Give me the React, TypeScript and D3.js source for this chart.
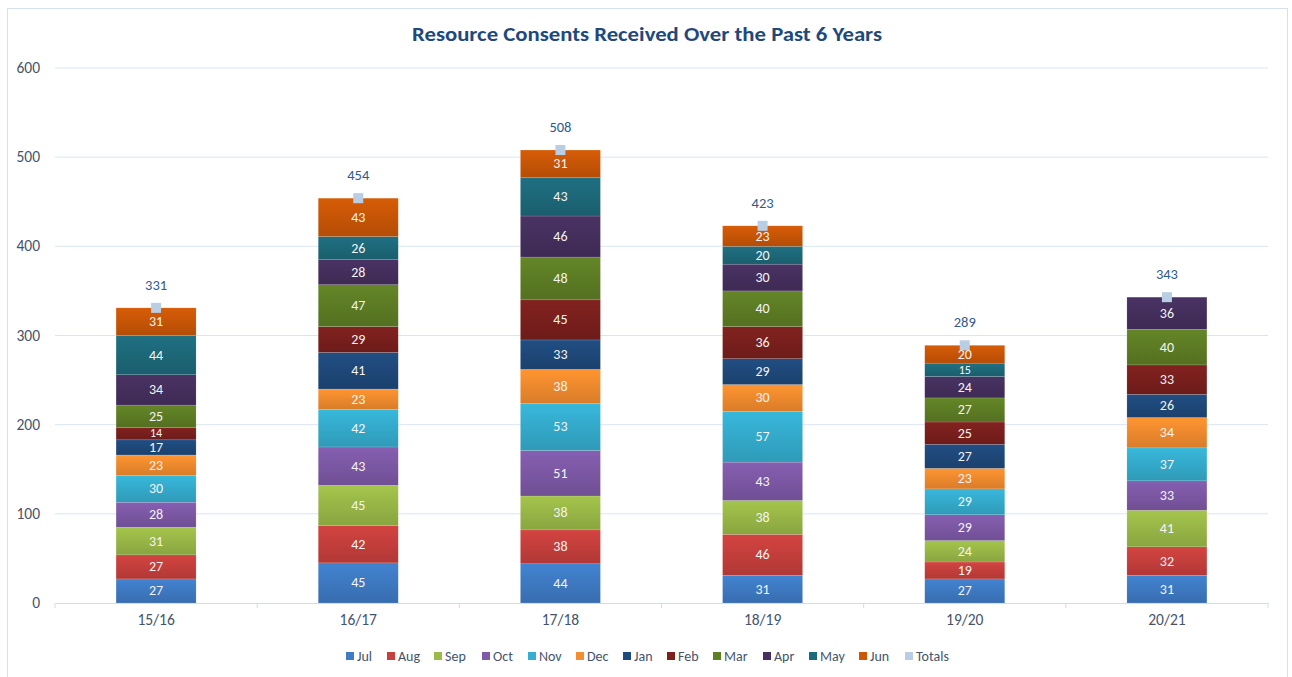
import React, { useEffect, useRef } from 'react';
import * as d3 from 'd3';

const years = ['15/16', '16/17', '17/18', '18/19', '19/20', '20/21'];
const months = ['Jul', 'Aug', 'Sep', 'Oct', 'Nov', 'Dec', 'Jan', 'Feb', 'Mar', 'Apr', 'May', 'Jun'];

const jul = [27, 45, 44, 31, 27, 31];
const aug = [27, 42, 38, 46, 19, 32];
const sep = [31, 45, 38, 38, 24, 41];
const oct = [28, 43, 51, 43, 29, 33];
const nov = [30, 42, 53, 57, 29, 37];
const dec = [23, 23, 38, 30, 23, 34];
const jan = [17, 41, 33, 29, 27, 26];
const feb = [14, 29, 45, 36, 25, 33];
const mar = [25, 47, 48, 40, 27, 40];
const apr = [34, 28, 46, 30, 24, 36];
const may = [44, 26, 43, 20, 15, null];
const jun = [31, 43, 31, 23, 20, null];
const totals = [331, 454, 508, 423, 289, 343];

const yTicks = [0, 100, 200, 300, 400, 500, 600];

const seriesValues = [jul, aug, sep, oct, nov, dec, jan, feb, mar, apr, may, jun];

const colors = [
    '#3f7cc6', '#c8403d', '#9bbb48', '#7f5aa8', '#35aed0', '#f68d2e',
    '#1f4a7c', '#7b201d', '#5f7f25', '#46305f', '#1d6a7b', '#cc5707'
];

const App = () => {
    const svgRef = useRef<SVGSVGElement | null>(null);
    const width = 1292;
    const height = 677;

    useEffect(() => {
        if (!svgRef.current) return;
        const svg = d3.select(svgRef.current);
        svg.selectAll('*').remove();

        const margin = { top: 68, right: 24, bottom: 74, left: 55 };
        const font = 'Carlito, "Open Sans", "Noto Sans", sans-serif';
        const textColor = '#44546a';

        // chart frame
        svg.append('rect')
            .attr('x', 7.5).attr('y', 8.5)
            .attr('width', 1280).attr('height', 680)
            .attr('fill', '#fff')
            .attr('stroke', '#d5e1ef');

        const defs = svg.append('defs');
        colors.forEach((c, i) => {
            const g = defs.append('linearGradient')
                .attr('id', `grad${i}`)
                .attr('x1', 0).attr('y1', 0).attr('x2', 0).attr('y2', 1);
            g.append('stop').attr('offset', '0%').attr('stop-color', d3.color(c)!.brighter(0.15).formatHex());
            g.append('stop').attr('offset', '100%').attr('stop-color', d3.color(c)!.darker(0.35).formatHex());
        });

        const x = d3.scaleBand()
            .domain(years)
            .range([margin.left, width - margin.right])
            .paddingInner(0)
            .paddingOuter(0);

        const y = d3.scaleLinear()
            .domain([0, 600])
            .range([height - margin.bottom, margin.top]);

        const barW = 80;

        // title
        svg.append('text')
            .attr('x', 412)
            .attr('y', 41)
            .attr('textLength', 470)
            .attr('lengthAdjust', 'spacingAndGlyphs')
            .attr('fill', '#1f497d')
            .style('font-family', font)
            .style('font-size', '20px')
            .style('font-weight', '700')
            .text('Resource Consents Received Over the Past 6 Years');

        // gridlines + y labels
        const yAxis = svg.append('g');
        yTicks.forEach(t => {
            if (t > 0) {
                yAxis.append('line')
                    .attr('x1', margin.left).attr('x2', width - margin.right)
                    .attr('y1', y(t)).attr('y2', y(t))
                    .attr('stroke', '#dae5f2').attr('stroke-width', 1);
            }
            yAxis.append('text')
                .attr('x', 40)
                .attr('y', y(t) + 5)
                .attr('text-anchor', 'end')
                .attr('fill', textColor)
                .style('font-family', font)
                .style('font-size', '15.5px')
                .text(t);
        });

        // x axis
        svg.append('g')
            .attr('transform', `translate(0,${y(0)})`)
            .call(d3.axisBottom(x).tickSize(0).tickPadding(11))
            .call(g => g.select('.domain').attr('stroke', '#d0dcea'))
            .selectAll('text')
            .attr('fill', textColor)
            .style('font-family', font)
            .style('font-size', '15.5px');

        // category separators
        svg.append('g')
            .selectAll('line')
            .data([0, ...years.map((_, i) => i + 1)])
            .join('line')
            .attr('x1', d => margin.left + d * x.bandwidth())
            .attr('x2', d => margin.left + d * x.bandwidth())
            .attr('y1', y(0)).attr('y2', y(0) + 5)
            .attr('stroke', '#d0dcea');

        // stacked bars
        const rows = years.map((yr, i) => {
            const r: any = { year: yr };
            months.forEach((m, k) => { r[m] = seriesValues[k][i] ?? 0; });
            return r;
        });
        const stack = d3.stack().keys(months)(rows);

        stack.forEach((layer, k) => {
            const g = svg.append('g');
            layer.forEach((d, i) => {
                const v = seriesValues[k][i];
                if (v == null) return;
                const cx = x(years[i])! + x.bandwidth() / 2;
                const h = y(d[0]) - y(d[1]);
                g.append('rect')
                    .attr('x', cx - barW / 2)
                    .attr('y', y(d[1]))
                    .attr('width', barW)
                    .attr('height', h)
                    .attr('fill', `url(#grad${k})`)
                    .attr('stroke', 'rgba(255,255,255,0.25)')
                    .attr('stroke-width', 0.5);
                // thin segments get a slightly smaller label so neighbours don't collide
                const fs = h < 14 ? 12 : 14;
                g.append('text')
                    .attr('x', cx)
                    .attr('y', (y(d[0]) + y(d[1])) / 2 + fs * 0.32)
                    .attr('text-anchor', 'middle')
                    .attr('fill', '#f4f4f4')
                    .style('font-family', font)
                    .style('font-size', `${fs}px`)
                    .text(v);
            });
        });

        // totals markers
        const tg = svg.append('g');
        totals.forEach((t, i) => {
            const cx = x(years[i])! + x.bandwidth() / 2;
            tg.append('rect')
                .attr('x', cx - 5).attr('y', y(t) - 5)
                .attr('width', 10).attr('height', 10)
                .attr('fill', '#b9cde5');
            tg.append('text')
                .attr('x', cx)
                .attr('y', y(t) - 18)
                .attr('text-anchor', 'middle')
                .attr('fill', '#2f5a8e')
                .style('font-family', font)
                .style('font-size', '14.5px')
                .text(t);
        });

        // legend
        const legendItems = [...months, 'Totals'];
        const legendColors = [...colors, '#b9cde5'];
        const legendX = [346, 387, 434, 482, 528, 576, 623, 667, 713, 763, 809, 859, 905];
        const legend = svg.append('g');
        legendItems.forEach((name, i) => {
            legend.append('rect')
                .attr('x', legendX[i]).attr('y', 652)
                .attr('width', 8).attr('height', 8)
                .attr('fill', legendColors[i]);
            legend.append('text')
                .attr('x', legendX[i] + 11)
                .attr('y', 661)
                .attr('fill', textColor)
                .style('font-family', font)
                .style('font-size', '14px')
                .text(name);
        });
    }, []);

    return (
        <div style={{ position: 'fixed', left: 0, top: 0, width, height, background: '#fff' }}>
            <svg ref={svgRef} width={width} height={height} style={{ display: 'block' }} />
        </div>
    );
};

export default App;
